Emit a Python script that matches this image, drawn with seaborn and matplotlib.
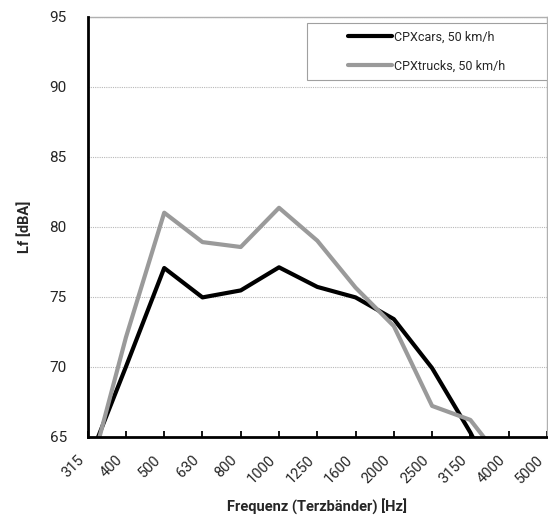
import matplotlib
matplotlib.use("Agg")
import matplotlib.pyplot as plt
import matplotlib.transforms as mtransforms
from matplotlib.patches import Rectangle
import numpy as np
import pandas as pd
import seaborn as sns

# Third-octave band centre frequencies (Hz)
bands = ["315", "400", "500", "630", "800", "1000", "1250",
         "1600", "2000", "2500", "3150", "4000", "5000"]

# Band levels Lf in dBA
cpx_cars = [63.1, 70.0, 77.05, 74.95, 75.45, 77.1, 75.7,
            74.95, 73.4, 69.9, 65.3, 60.0, 58.0]
cpx_trucks = [61.8, 72.1, 81.0, 78.9, 78.55, 81.35, 79.0,
              75.65, 72.9, 67.2, 66.2, 62.7, 60.0]

series_names = ["CPXcars, 50 km/h", "CPXtrucks, 50 km/h"]
yticks = [65, 70, 75, 80, 85, 90, 95]

df = pd.concat([
    pd.DataFrame({"band": bands, "pos": np.arange(len(bands)),
                  "level": cpx_cars, "series": series_names[0]}),
    pd.DataFrame({"band": bands, "pos": np.arange(len(bands)),
                  "level": cpx_trucks, "series": series_names[1]}),
], ignore_index=True)

sns.set_style("white")
plt.rcParams["font.family"] = ["Roboto", "DejaVu Sans"]

fig = plt.figure(figsize=(5.48, 5.15), dpi=100)
ax = fig.add_axes([0.160, 0.152, 0.838, 0.8156])

sns.lineplot(data=df, x="pos", y="level", hue="series", sort=False,
             palette={series_names[0]: "#000000", series_names[1]: "#9a9a9a"},
             linewidth=3.0, ax=ax, legend=False, zorder=3)

ax.set_xlim(0, len(bands) - 1)
ax.set_ylim(65, 95)

# horizontal grid
ax.set_yticks(yticks)
ax.yaxis.grid(True, color="#b8b8b8", linestyle=(0, (1, 1)), linewidth=0.8)
ax.xaxis.grid(False)

# spines: black left/bottom, grey frame elsewhere
for side in ("left", "bottom"):
    ax.spines[side].set_color("black")
    ax.spines[side].set_linewidth(2.0)
    ax.spines[side].set_zorder(4)
for side in ("top", "right"):
    ax.spines[side].set_color("#b0b0b0")
    ax.spines[side].set_linewidth(1.0)

ax.set_xticks(np.arange(len(bands)))
ax.set_xticklabels(bands, rotation=45, ha="right", va="center",
                   rotation_mode="anchor", fontsize=10.5)
ax.tick_params(axis="x", direction="in", length=4, width=1.3,
               color="black", pad=15, bottom=True)
ax.tick_params(axis="y", length=0, pad=15, labelsize=11)

# nudge the rotated band labels slightly left so the last one stays inside
shift = mtransforms.ScaledTranslation(-4 / 72, 0, fig.dpi_scale_trans)
for lbl in ax.get_xticklabels():
    lbl.set_transform(lbl.get_transform() + shift)

ax.set_xlabel("Frequenz (Terzbänder) [Hz]", fontsize=10.5, fontweight="bold")
ax.set_ylabel("Lf [dBA]", fontsize=10.5, fontweight="bold")
ax.xaxis.set_label_coords(0.5, -0.145)
ax.yaxis.set_label_coords(-0.121, 0.5)

# legend box in the upper right corner
box = (0.4775, 0.849, 0.5225, 0.136)
ax.add_patch(Rectangle(box[:2], box[2], box[3], transform=ax.transAxes,
                       facecolor="white", edgecolor="#a0a0a0",
                       linewidth=0.8, zorder=5))
handles = [plt.Line2D([], [], color="#000000", linewidth=3.0),
           plt.Line2D([], [], color="#9a9a9a", linewidth=3.0)]
leg = ax.legend(handles, series_names, loc="center", bbox_to_anchor=box,
                frameon=False, fontsize=9, handlelength=3.5,
                handletextpad=0.2, labelspacing=1.3)
leg.set_zorder(6)

fig.savefig("out.png", dpi=100)
